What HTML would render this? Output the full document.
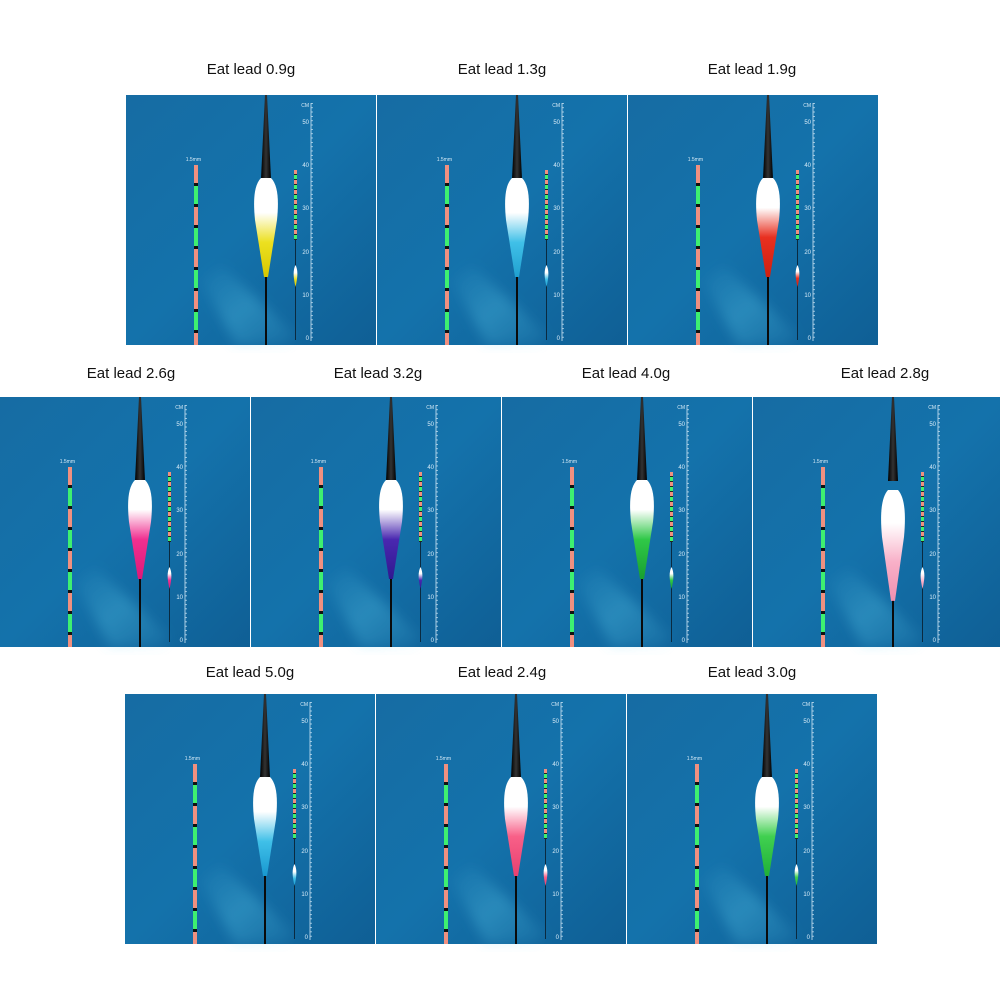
<!DOCTYPE html>
<html><head><meta charset="utf-8"><style>
html,body{margin:0;padding:0;background:#fff;width:1000px;height:1000px;overflow:hidden}
svg{display:block}
.l{font-family:"Liberation Sans",Arial,sans-serif;font-size:15px;fill:#111;text-anchor:middle}
.n{font-family:"Liberation Sans",Arial,sans-serif;font-size:6px;fill:#d8ecf8;text-anchor:end}
</style></head><body>
<svg width="1000" height="1000" viewBox="0 0 1000 1000" xmlns="http://www.w3.org/2000/svg">
<defs>
<linearGradient id="bg" x1="0" y1="0" x2="1" y2="1">
<stop offset="0" stop-color="#166ca3"/><stop offset="0.5" stop-color="#1472ab"/><stop offset="1" stop-color="#0f5f95"/></linearGradient>
<linearGradient id="beam" x1="0" y1="0" x2="1" y2="1">
<stop offset="0" stop-color="#5fd0f0" stop-opacity="0"/><stop offset="0.5" stop-color="#5fd0f0" stop-opacity="0.3"/><stop offset="1" stop-color="#5fd0f0" stop-opacity="0.05"/></linearGradient>
<filter id="bl"><feGaussianBlur stdDeviation="6"/></filter>
<pattern id="rod" x="0" y="70" width="4" height="42" patternUnits="userSpaceOnUse">
<rect width="4" height="42" fill="#111"/><rect y="0" width="4" height="18" fill="#f09080"/><rect y="21" width="4" height="18" fill="#3ef070"/></pattern>
<pattern id="srod" x="0" y="75" width="3" height="10" patternUnits="userSpaceOnUse">
<rect width="3" height="10" fill="#222"/><rect width="3" height="4" fill="#f09080"/><rect y="5" width="3" height="4" fill="#3ef070"/></pattern>
<pattern id="tick" x="0" y="8" width="8" height="4.33" patternUnits="userSpaceOnUse">
<rect width="3" height="0.7" fill="#cfe6f5"/></pattern>
<linearGradient id="ant" x1="0" x2="1"><stop offset="0" stop-color="#000"/><stop offset=".5" stop-color="#333"/><stop offset="1" stop-color="#000"/></linearGradient>
<g id="base">
<rect width="250" height="250" fill="url(#bg)"/>
<polygon points="75,185 95,170 170,240 160,250 110,250" fill="url(#beam)" filter="url(#bl)"/>
<text x="75" y="66" class="n" style="font-size:5px">1.5mm</text>
<rect x="68" y="70" width="4" height="180" fill="url(#rod)"/>
<rect x="168" y="75" width="3" height="70" fill="url(#srod)"/>
<line x1="169.5" y1="145" x2="169.5" y2="245" stroke="#0a2a40" stroke-width="1"/>
<line x1="140" y1="170" x2="140" y2="250" stroke="#0a0a0a" stroke-width="2"/>
<line x1="185" y1="8" x2="185" y2="246" stroke="#cfe6f5" stroke-width="0.8"/>
<rect x="185" y="8" width="3" height="238" fill="url(#tick)"/>
<path d="M139,0 L141,0 L145,84 L135,84Z" fill="url(#ant)"/>
<text x="183" y="12" class="n" style="font-size:5px">CM</text>
<text x="183" y="29" class="n">50</text><text x="183" y="72" class="n">40</text><text x="183" y="115" class="n">30</text><text x="183" y="159" class="n">20</text><text x="183" y="202" class="n">10</text><text x="183" y="245" class="n">0</text>
</g>
<path id="body" d="M135,83 C128,90 127,105 129,125 L138,182 L142,182 L151,125 C153,105 152,90 145,83Z"/>
<path id="sf" d="M169.5,170 C167,175 167,181 169.5,192 C172,181 172,175 169.5,170Z"/>
</defs>

<text x="251" y="74" class="l">Eat lead 0.9g</text>
<text x="502" y="74" class="l">Eat lead 1.3g</text>
<text x="752" y="74" class="l">Eat lead 1.9g</text>
<text x="131" y="378" class="l">Eat lead 2.6g</text>
<text x="378" y="378" class="l">Eat lead 3.2g</text>
<text x="626" y="378" class="l">Eat lead 4.0g</text>
<text x="885" y="378" class="l">Eat lead 2.8g</text>
<text x="250" y="677" class="l">Eat lead 5.0g</text>
<text x="502" y="677" class="l">Eat lead 2.4g</text>
<text x="752" y="677" class="l">Eat lead 3.0g</text>

<defs>
<linearGradient id="c1" x1="0" y1="0" x2="0" y2="1"><stop offset=".35" stop-color="#fff"/><stop offset=".65" stop-color="#ece020"/><stop offset="1" stop-color="#d8c800"/></linearGradient>
<linearGradient id="c2" x1="0" y1="0" x2="0" y2="1"><stop offset=".35" stop-color="#fff"/><stop offset=".65" stop-color="#40c0e8"/><stop offset="1" stop-color="#20a0d0"/></linearGradient>
<linearGradient id="c3" x1="0" y1="0" x2="0" y2="1"><stop offset=".3" stop-color="#fff"/><stop offset=".6" stop-color="#e83020"/><stop offset="1" stop-color="#d02010"/></linearGradient>
<linearGradient id="c4" x1="0" y1="0" x2="0" y2="1"><stop offset=".3" stop-color="#fff"/><stop offset=".6" stop-color="#f03090"/><stop offset="1" stop-color="#e01878"/></linearGradient>
<linearGradient id="c5" x1="0" y1="0" x2="0" y2="1"><stop offset=".3" stop-color="#fff"/><stop offset=".6" stop-color="#4a28b0"/><stop offset="1" stop-color="#301890"/></linearGradient>
<linearGradient id="c6" x1="0" y1="0" x2="0" y2="1"><stop offset=".3" stop-color="#fff"/><stop offset=".6" stop-color="#30c848"/><stop offset="1" stop-color="#18a030"/></linearGradient>
<linearGradient id="c7" x1="0" y1="0" x2="0" y2="1"><stop offset=".3" stop-color="#fff"/><stop offset=".65" stop-color="#f8b0c8"/><stop offset="1" stop-color="#f090b0"/></linearGradient>
<linearGradient id="c8" x1="0" y1="0" x2="0" y2="1"><stop offset=".35" stop-color="#fff"/><stop offset=".65" stop-color="#40c0e8"/><stop offset="1" stop-color="#1898d0"/></linearGradient>
<linearGradient id="c9" x1="0" y1="0" x2="0" y2="1"><stop offset=".3" stop-color="#fff"/><stop offset=".6" stop-color="#f86088"/><stop offset="1" stop-color="#e84070"/></linearGradient>
<linearGradient id="c10" x1="0" y1="0" x2="0" y2="1"><stop offset=".3" stop-color="#fff"/><stop offset=".6" stop-color="#40d050"/><stop offset="1" stop-color="#20b038"/></linearGradient>
</defs>

<g transform="translate(126,95)"><use href="#base"/><use href="#body" fill="url(#c1)"/><use href="#sf" fill="url(#c1)"/></g>
<g transform="translate(377,95)"><use href="#base"/><use href="#body" fill="url(#c2)"/><use href="#sf" fill="url(#c2)"/></g>
<g transform="translate(628,95)"><use href="#base"/><use href="#body" fill="url(#c3)"/><use href="#sf" fill="url(#c3)"/></g>
<g transform="translate(0,397)"><use href="#base"/><use href="#body" fill="url(#c4)"/><use href="#sf" fill="url(#c4)"/></g>
<g transform="translate(251,397)"><use href="#base"/><use href="#body" fill="url(#c5)"/><use href="#sf" fill="url(#c5)"/></g>
<g transform="translate(502,397)"><use href="#base"/><use href="#body" fill="url(#c6)"/><use href="#sf" fill="url(#c6)"/></g>
<g transform="translate(753,397)"><use href="#base"/><use href="#body" fill="url(#c7)" transform="scale(1,1.12)"/><use href="#sf" fill="url(#c7)"/></g>
<g transform="translate(125,694)"><use href="#base"/><use href="#body" fill="url(#c8)"/><use href="#sf" fill="url(#c8)"/></g>
<g transform="translate(376,694)"><use href="#base"/><use href="#body" fill="url(#c9)"/><use href="#sf" fill="url(#c9)"/></g>
<g transform="translate(627,694)"><use href="#base"/><use href="#body" fill="url(#c10)"/><use href="#sf" fill="url(#c10)"/></g>
</svg>
</body></html>
